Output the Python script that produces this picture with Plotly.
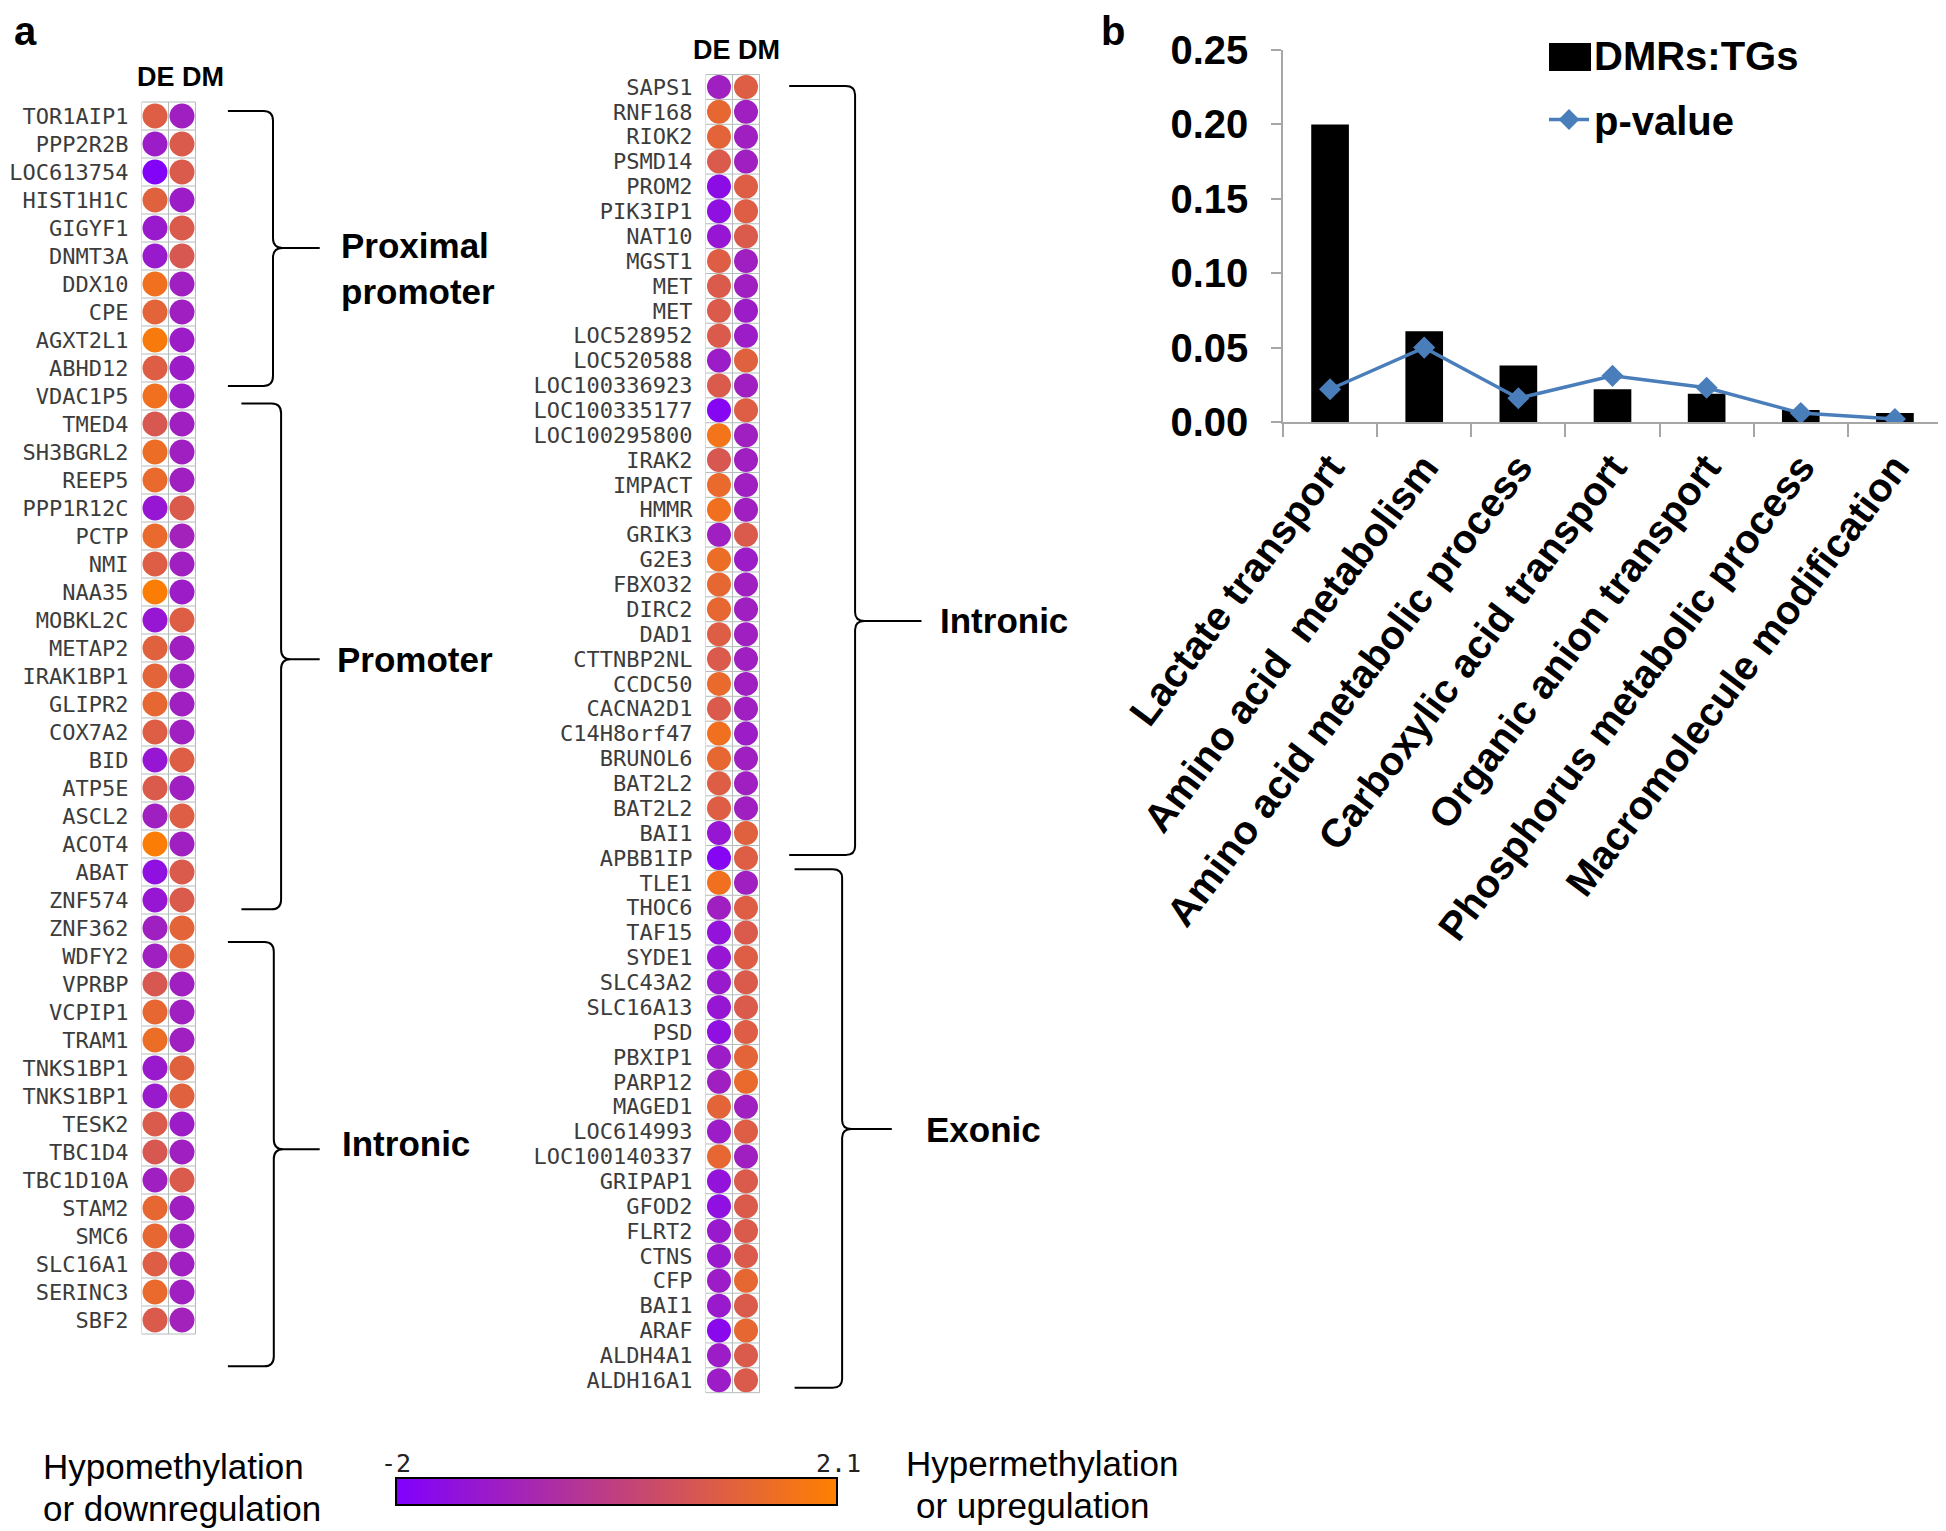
import plotly.graph_objects as go

W, H = 1946, 1531

# ---------------- data ----------------
left_genes = ["TOR1AIP1", "PPP2R2B", "LOC613754", "HIST1H1C", "GIGYF1", "DNMT3A", "DDX10", "CPE",
              "AGXT2L1", "ABHD12", "VDAC1P5", "TMED4", "SH3BGRL2", "REEP5", "PPP1R12C", "PCTP",
              "NMI", "NAA35", "MOBKL2C", "METAP2", "IRAK1BP1", "GLIPR2", "COX7A2", "BID", "ATP5E",
              "ASCL2", "ACOT4", "ABAT", "ZNF574", "ZNF362", "WDFY2", "VPRBP", "VCPIP1", "TRAM1",
              "TNKS1BP1", "TNKS1BP1", "TESK2", "TBC1D4", "TBC1D10A", "STAM2", "SMC6", "SLC16A1",
              "SERINC3", "SBF2"]
left_de = [1.0, -1.1, -1.9, 1.1, -1.2, -1.2, 1.6, 1.2, 1.9, 1.0, 1.6, 0.8, 1.5, 1.4, -1.3, 1.4,
           1.0, 2.0, -1.3, 1.1, 1.2, 1.3, 1.0, -1.3, 0.9, -1.0, 2.0, -1.5, -1.3, -1.0, -1.0, 0.8,
           1.3, 1.5, -1.2, -1.2, 0.9, 0.8, -1.0, 1.3, 1.3, 1.0, 1.4, 0.9]
left_dm = [-1.0, 0.9, 0.9, -1.1, 0.9, 0.8, -1.0, -1.0, -1.1, -1.1, -1.1, -1.0, -1.0, -1.0, 0.9, -0.9,
           -1.0, -1.1, 1.0, -1.0, -1.0, -1.0, -1.0, 1.0, -1.0, 1.0, -1.0, 0.9, 0.9, 1.2, 1.2, -1.0,
           -1.0, -1.0, 1.1, 1.1, -1.1, -1.0, 0.9, -1.0, -1.0, -1.0, -1.0, -0.9]

mid_genes = ["SAPS1", "RNF168", "RIOK2", "PSMD14", "PROM2", "PIK3IP1", "NAT10", "MGST1", "MET", "MET",
             "LOC528952", "LOC520588", "LOC100336923", "LOC100335177", "LOC100295800", "IRAK2",
             "IMPACT", "HMMR", "GRIK3", "G2E3", "FBXO32", "DIRC2", "DAD1", "CTTNBP2NL", "CCDC50",
             "CACNA2D1", "C14H8orf47", "BRUNOL6", "BAT2L2", "BAT2L2", "BAI1", "APBB1IP", "TLE1",
             "THOC6", "TAF15", "SYDE1", "SLC43A2", "SLC16A13", "PSD", "PBXIP1", "PARP12", "MAGED1",
             "LOC614993", "LOC100140337", "GRIPAP1", "GFOD2", "FLRT2", "CTNS", "CFP", "BAI1", "ARAF",
             "ALDH4A1", "ALDH16A1"]
mid_de = [-1.0, 1.3, 1.2, 0.9, -1.6, -1.5, -1.3, 1.0, 0.9, 0.9, 0.9, -1.1, 0.9, -1.8, 1.7, 0.8,
          1.4, 1.6, -1.0, 1.5, 1.3, 1.3, 1.0, 0.9, 1.4, 0.9, 1.6, 1.3, 1.0, 1.0, -1.3, -1.8, 1.6,
          -1.0, -1.4, -1.3, -1.2, -1.3, -1.5, -1.1, -1.0, 1.2, -1.1, 1.3, -1.4, -1.5, -1.2, -1.2,
          -1.1, -1.2, -1.7, -1.1, -1.1]
mid_dm = [1.0, -1.0, -1.0, -1.0, 1.0, 1.0, 0.9, -1.0, -1.0, -1.1, -1.1, 1.1, -1.0, 1.0, -1.0, -1.0,
          -1.0, -1.0, 0.9, -1.1, -1.0, -1.0, -1.0, -1.0, -1.0, -1.0, -1.1, -1.0, -1.0, -1.0, 1.1, 1.0,
          -1.0, 1.0, 0.9, 1.0, 0.9, 0.9, 1.0, 1.2, 1.4, -1.0, 1.0, -1.0, 0.9, 0.9, 0.9, 0.9, 1.3,
          0.9, 1.3, 0.9, 0.9]

columns = ["DE", "DM"]
left_regions = ["Proximal<br>promoter", "Promoter", "Intronic"]
mid_regions = ["Intronic", "Exonic"]

categories = ["Lactate transport", "Amino acid\u00a0 metabolism", "Amino acid metabolic process",
              "Carboxylic acid transport", "Organic anion transport",
              "Phosphorus metabolic process", "Macromolecule modification"]
ratio = [0.200, 0.061, 0.038, 0.022, 0.019, 0.008, 0.006]
pval = [0.022, 0.050, 0.016, 0.031, 0.023, 0.006, 0.002]

cb_min, cb_max = -2, 2.1
cb_ticktext = ["-2", "2.1"]

# ---------------- helpers ----------------
OFF = 8  # page body margin in the browser


def px_x(p):
    return (p - OFF) / W


def px_y(p):
    return 1 - (p - OFF) / H


SANS = "Liberation Sans, Arial, sans-serif"
MONO = "DejaVu Sans Mono, monospace"
GRIDC = "#b4bcbc"

fig = go.Figure()


def grid_trace(n, xa, ya):
    xs, ys = [], []
    for k in range(n + 1):
        xs += [-0.5, 1.5, None]
        ys += [k - 0.5, k - 0.5, None]
    for c in [-0.5, 0.5, 1.5]:
        xs += [c, c, None]
        ys += [-0.5, n - 0.5, None]
    return go.Scatter(x=xs, y=ys, mode="lines", line=dict(color=GRIDC, width=1),
                      hoverinfo="skip", showlegend=False, xaxis=xa, yaxis=ya)


def dot_trace(genes, de, dm, xa, ya, size):
    n = len(genes)
    return go.Scatter(
        x=[0] * n + [1] * n, y=list(range(n)) * 2, mode="markers",
        marker=dict(color=de + dm, coloraxis="coloraxis", size=size, line=dict(width=0)),
        text=genes + genes, showlegend=False, xaxis=xa, yaxis=ya)


nL, nM = len(left_genes), len(mid_genes)
fig.add_trace(grid_trace(nL, "x", "y"))
fig.add_trace(dot_trace(left_genes, left_de, left_dm, "x", "y", 25))
fig.add_trace(grid_trace(nM, "x2", "y2"))
fig.add_trace(dot_trace(mid_genes, mid_de, mid_dm, "x2", "y2", 24))

fig.add_trace(go.Bar(x=categories, y=ratio, name="DMRs:TGs", marker=dict(color="black", line=dict(width=0)),
                     xaxis="x3", yaxis="y3", legendgroup="a"))
fig.add_trace(go.Scatter(x=categories, y=pval, name="p-value", mode="lines+markers",
                         line=dict(color="#4a7ebb", width=3.5),
                         marker=dict(symbol="diamond", size=17, color="#4a7ebb"),
                         xaxis="x3", yaxis="y3", legendgroup="b"))

# ---------------- geometry (pixels) ----------------
L_X0, L_UNIT, L_XR = 155, 27, [-0.5, 9.6]
L_Y0, L_PITCH, L_YR = 116, 28.0, [-0.7, 45.0]
M_X0, M_UNIT, M_XR = 719, 27, [-0.5, 10.0]
M_Y0, M_PITCH, M_YR = 87, 24.87, [-0.7, 53.0]


def xdom(x0, unit, xr):
    return [px_x(x0 + xr[0] * unit), px_x(x0 + xr[1] * unit)]


def ydom(y0, pitch, yr):
    return [px_y(y0 + yr[1] * pitch), px_y(y0 + yr[0] * pitch)]


gene_axis = dict(tickmode="array", ticks="", showgrid=False, zeroline=False, showline=False,
                 ticklabelstandoff=12, automargin=False,
                 tickfont=dict(family=MONO, size=22, color="#3c3c3c"))
hidden_x = dict(visible=False, showgrid=False, zeroline=False, automargin=False)

LEG_X, LEG_Y = 1544, 22

layout = dict(
    width=W, height=H, template="none",
    paper_bgcolor="white", plot_bgcolor="rgba(0,0,0,0)",
    margin=dict(l=0, r=0, t=0, b=0, autoexpand=False),
    xaxis=dict(hidden_x, domain=xdom(L_X0, L_UNIT, L_XR), range=L_XR, anchor="y"),
    yaxis=dict(gene_axis, domain=ydom(L_Y0, L_PITCH, L_YR), range=L_YR[::-1], anchor="x",
               tickvals=list(range(nL)), ticktext=left_genes),
    xaxis2=dict(hidden_x, domain=xdom(M_X0, M_UNIT, M_XR), range=M_XR, anchor="y2"),
    yaxis2=dict(gene_axis, domain=ydom(M_Y0, M_PITCH, M_YR), range=M_YR[::-1], anchor="x2",
                tickvals=list(range(nM)), ticktext=mid_genes),
    xaxis3=dict(domain=[px_x(1283), px_x(1942)], anchor="y3", automargin=False,
                showline=True, linecolor="#a6a6a6", linewidth=1.5, showgrid=False, zeroline=False,
                ticks="outside", tickson="boundaries", ticklen=13, tickcolor="#a6a6a6", tickwidth=1.5,
                tickangle=-53, ticklabelstandoff=4,
                tickfont=dict(family=SANS, size=40, color="black", weight="bold")),
    yaxis3=dict(domain=[px_y(422), px_y(50)], anchor="x3", range=[0, 0.25], automargin=False,
                tick0=0, dtick=0.05, tickformat=".2f",
                showline=True, linecolor="#a6a6a6", linewidth=1.5, showgrid=False, zeroline=False,
                ticks="outside", ticklen=10, tickcolor="#a6a6a6", tickwidth=1.5, ticklabelstandoff=15,
                tickfont=dict(family=SANS, size=40, color="black", weight="bold")),
    bargap=0.6,
    showlegend=True,
    legend=dict(x=px_x(LEG_X), y=px_y(LEG_Y), xanchor="left", yanchor="top", bgcolor="rgba(0,0,0,0)",
                font=dict(family=SANS, size=40, color="black", weight="bold"),
                traceorder="grouped", tracegroupgap=10, itemwidth=40),
    coloraxis=dict(
        colorscale=[[0, "rgb(128,0,255)"], [1, "rgb(255,128,0)"]], cmin=cb_min, cmax=cb_max,
        colorbar=dict(orientation="h", x=px_x(616.5), xanchor="center", y=px_y(1507), yanchor="bottom",
                      len=441, lenmode="pixels", thickness=27, xpad=0, ypad=0,
                      outlinewidth=2, outlinecolor="black", ticks="",
                      tickvals=[cb_min, cb_max], showticklabels=False)),
)
fig.update_layout(layout)


# ---------------- braces ----------------
def brace(x0, xs, xt, ytop, ybot, ytip, ex=0.35, ey=0.35):
    return (f"M {x0},{ytop} L {xs - ex},{ytop} Q {xs},{ytop} {xs},{ytop + ey} "
            f"L {xs},{ytip - ey} Q {xs},{ytip} {xs + ex},{ytip} L {xt},{ytip} "
            f"M {xs + ex},{ytip} Q {xs},{ytip} {xs},{ytip + ey} "
            f"L {xs},{ybot - ey} Q {xs},{ybot} {xs - ex},{ybot} L {x0},{ybot}")


# (arm x, spine x, tip x, top row, bottom row, tip row, label x, label row)
left_braces = [(2.7, 4.37, 6.1, -0.18, 9.64, 4.71, 6.8, 5.45),
               (3.2, 4.67, 6.1, 10.27, 28.33, 19.4, 6.65, 19.4),
               (2.7, 4.4, 6.1, 29.5, 44.65, 36.9, 6.85, 36.7)]
mid_braces = [(2.6, 5.04, 7.5, -0.04, 30.88, 21.47, 8.1, 21.47),
              (2.8, 4.56, 6.4, 31.45, 52.3, 41.9, 7.6, 41.9)]

shapes, annotations = [], []
for names, specs, xa, ya in [(left_regions, left_braces, "x", "y"), (mid_regions, mid_braces, "x2", "y2")]:
    for name, (x0, xs, xt, yt, yb, yp, lx, ly) in zip(names, specs):
        shapes.append(dict(type="path", xref=xa, yref=ya, path=brace(x0, xs, xt, yt, yb, yp),
                           line=dict(color="black", width=2)))
        annotations.append(dict(xref=xa, yref=ya, x=lx, y=ly, text=name, showarrow=False,
                                xanchor="left", yanchor="middle", align="left",
                                font=dict(family=SANS, size=35, color="black", weight="bold")))

# larger legend swatch for the bar series (covers the small default legend square)
shapes.append(dict(type="rect", xref="paper", yref="paper",
                   x0=px_x(LEG_X + 5), x1=px_x(LEG_X + 47), y0=px_y(LEG_Y + 49), y1=px_y(LEG_Y + 21),
                   fillcolor="black", line=dict(width=0)))

# column headers
for xa, xc, ypx in [("x", 0.95, 77), ("x2", 0.65, 50)]:
    annotations.append(dict(xref=xa, yref="paper", x=xc, y=px_y(ypx), text=" ".join(columns),
                            showarrow=False, xanchor="center", yanchor="middle",
                            font=dict(family=SANS, size=27, color="black", weight="bold")))

# colorbar end labels
for t, xp in zip(cb_ticktext, [396, 838]):
    annotations.append(dict(xref="paper", yref="paper", x=px_x(xp), y=px_y(1463), text=t, showarrow=False,
                            xanchor="center", yanchor="middle",
                            font=dict(family=MONO, size=25, color="#222")))

# panel letters
for t, xp, yp in [("a", 25, 31), ("b", 1113, 31)]:
    annotations.append(dict(xref="paper", yref="paper", x=px_x(xp), y=px_y(yp), text=t, showarrow=False,
                            xanchor="center", yanchor="middle",
                            font=dict(family=SANS, size=40, color="black", weight="bold")))

# colorbar side labels
for t, xp, yp in [("Hypomethylation", 41, 1466), ("or downregulation", 41, 1508),
                  ("Hypermethylation", 904, 1463), ("or upregulation", 914, 1505)]:
    annotations.append(dict(xref="paper", yref="paper", x=px_x(xp), y=px_y(yp), text=t, showarrow=False,
                            xanchor="left", yanchor="middle",
                            font=dict(family=SANS, size=35, color="black")))

fig.update_layout(shapes=shapes, annotations=annotations)
fig.write_html("out.html")
